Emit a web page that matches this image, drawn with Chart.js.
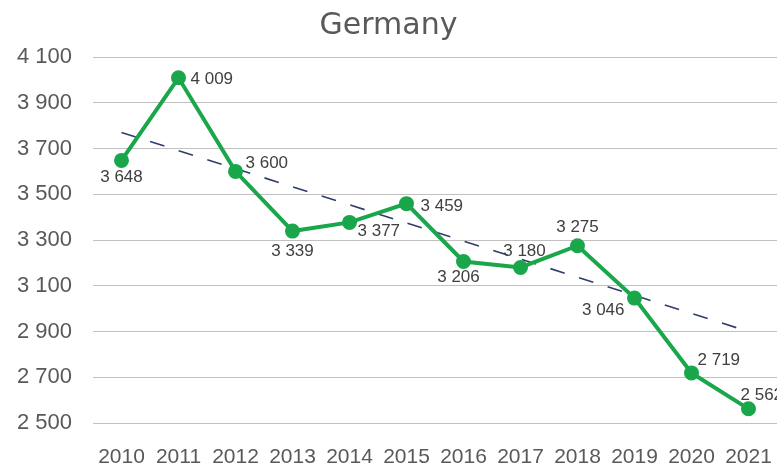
<!DOCTYPE html>
<html>
<head>
<meta charset="utf-8">
<script src="https://cdn.jsdelivr.net/npm/chart.js@4/dist/chart.umd.min.js"></script>
<style>
  html, body { margin: 0; padding: 0; background: #fff; }
  #wrap { width: 777px; height: 467px; }
</style>
</head>
<body>
<div id="wrap"><canvas id="chart" width="777" height="467"></canvas></div>
<script>
// --- data ---
const years = ['2010', '2011', '2012', '2013', '2014', '2015', '2016', '2017', '2018', '2019', '2020', '2021'];
const germanyValues = [3648, 4009, 3600, 3339, 3377, 3459, 3206, 3180, 3275, 3046, 2719, 2562];
const trendValues = [3770, null, null, null, null, null, null, null, null, null, null, 2900];
const yMin = 2500;
const yMax = 4100;
const yStep = 200;

// where each value label sits relative to its point
const labelDx = [0, 12, 10, 0, 8, 14, -5, 4, 0, -10, 6, -8];
const labelDy = [17, 1, -8, 20, 9, 3, 16, -16, -18, 12, -13, -14];
const labelAlign = ['center', 'left', 'left', 'center', 'left', 'left', 'center', 'center', 'center', 'right', 'left', 'left'];

function spaced(v) {
    return String(v).replace(/\B(?=(\d{3})+(?!\d))/g, ' ');
}

// --- value labels next to the points ---
const valueLabels = {
    id: 'valueLabels',
    afterDatasetsDraw(chart) {
        const ctx = chart.ctx;
        const meta = chart.getDatasetMeta(0);
        ctx.save();
        ctx.font = '17px "Liberation Sans", Arial, sans-serif';
        ctx.fillStyle = '#404040';
        ctx.textBaseline = 'middle';
        meta.data.forEach((pt, i) => {
            ctx.textAlign = labelAlign[i];
            ctx.fillText(spaced(germanyValues[i]), pt.x + labelDx[i], pt.y + labelDy[i]);
        });
        ctx.restore();
    }
};

new Chart(document.getElementById('chart'), {
    type: 'line',
    data: {
        labels: years,
        datasets: [{
            label: 'Germany',
            data: germanyValues,
            borderColor: '#1aa64a',
            backgroundColor: '#1aa64a',
            borderWidth: 4,
            pointRadius: 5.5,
            pointHoverRadius: 5.5,
            tension: 0,
            clip: false
        }, {
            label: 'Trend',
            data: trendValues,
            spanGaps: true,
            borderColor: '#2f3d6b',
            borderWidth: 1.6,
            borderDash: [15, 15],
            pointRadius: 0,
            tension: 0
        }]
    },
    options: {
        responsive: false,
        animation: false,
        layout: { padding: 0, autoPadding: false },
        plugins: {
            legend: { display: false },
            tooltip: { enabled: false },
            title: {
                display: true,
                text: 'Germany',
                color: '#595959',
                font: { family: '"DejaVu Sans", sans-serif', size: 30, weight: 'normal' },
                padding: { top: 8, bottom: 13 }
            }
        },
        scales: {
            x: {
                offset: true,
                grid: { display: false, drawTicks: false },
                border: { display: false },
                ticks: {
                    color: '#595959',
                    padding: 22,
                    maxRotation: 0,
                    autoSkip: false,
                    font: { family: '"Liberation Sans", Arial, sans-serif', size: 21 }
                },
                afterFit(scale) {
                    scale.height = 44;
                    scale.paddingLeft = 0;
                    scale.paddingRight = 0;
                }
            },
            y: {
                min: yMin,
                max: yMax,
                grid: { color: '#c0c0c0', lineWidth: 1, drawTicks: false },
                border: { display: false },
                ticks: {
                    stepSize: yStep,
                    color: '#595959',
                    padding: 21,
                    font: { family: '"Liberation Sans", Arial, sans-serif', size: 22 },
                    callback: v => spaced(v)
                },
                afterFit(scale) { scale.width = 93; }
            }
        }
    },
    plugins: [valueLabels]
});
</script>
</body>
</html>
